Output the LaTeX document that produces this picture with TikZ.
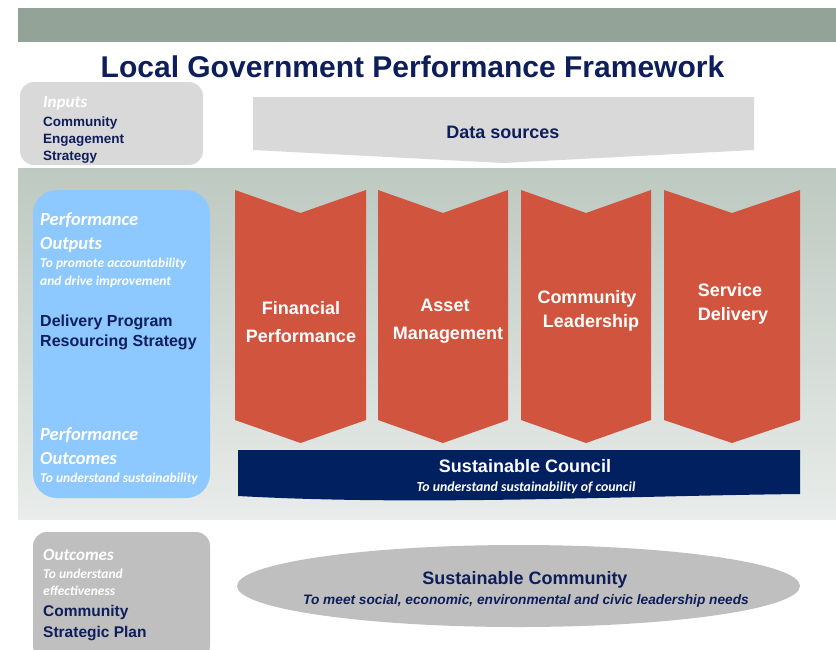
\documentclass[tikz,border=0pt]{standalone}
\usepackage{fontspec}
\setmainfont{Liberation Sans}
\newfontfamily\calfont{Carlito}
\usetikzlibrary{shapes.geometric}
\definecolor{navytxt}{HTML}{0E1E5B}
\definecolor{navybar}{HTML}{002060}
\definecolor{topbar}{HTML}{93A397}
\definecolor{bandtop}{HTML}{BDC9C1}
\definecolor{bandbot}{HTML}{E9ECEA}
\definecolor{chevred}{HTML}{D1543E}
\definecolor{lightblue}{HTML}{8DC8FE}
\definecolor{lgray}{HTML}{D9D9D9}
\definecolor{mgray}{HTML}{BFBFBF}
\tikzset{
  navybold/.style={text=navytxt, font=\bfseries\fontsize{#1}{#1}\selectfont, inner sep=0pt, anchor=base west},
  whiteital/.style={text=white, font=\calfont\bfseries\itshape\fontsize{#1}{#1}\selectfont, inner sep=0pt, anchor=base west},
  chevtext/.style={text=white, font=\bfseries\fontsize{18}{18}\selectfont, inner sep=0pt, anchor=base},
  chevron/.style={fill=chevred, draw=none},
}
\begin{document}
\begin{tikzpicture}[x=1pt,y=-1pt]
\useasboundingbox (0,0) rectangle (836,649);
\fill[white] (0,0) rectangle (836,649);
% top bar
\fill[topbar] (18,8) rectangle (836,42);
% title
\node[text=navytxt, font=\bfseries\fontsize{30}{30}\selectfont, inner sep=0pt, anchor=base] (title) at (412.5,77) {Local Government Performance Framework};
% middle band
\shade[top color=bandtop, bottom color=bandbot] (18,168) rectangle (836,519);
% inputs box
\fill[lgray, rounded corners=14pt] (20,82) rectangle (203,165);
\node[whiteital=17] (inp) at (43,107) {Inputs};
\node[navybold=13.5] (inp1) at (43,126) {Community};
\node[navybold=13.5] (inp2) at (43,143) {Engagement};
\node[navybold=13.5] (inp3) at (43,160) {Strategy};
% data sources
\fill[lgray] (253,97) -- (754,97) -- (754,150) -- (503,163) -- (253,150) -- cycle;
\node[navybold=18, anchor=base] (ds) at (503,138) {Data sources};
% blue box
\fill[lightblue, rounded corners=24pt] (33,190) rectangle (210,498);
\node[whiteital=18.5] (po1) at (40,225) {Performance};
\node[whiteital=18.5] (po2) at (40,249) {Outputs};
\node[whiteital=13.5] (po3) at (40,267) {To promote accountability};
\node[whiteital=13.5] (po4) at (40,285) {and drive improvement};
\node[navybold=16] (dp1) at (40,326) {Delivery Program};
\node[navybold=16] (dp2) at (40,346) {Resourcing Strategy};
\node[whiteital=18.5] (pc1) at (40,440) {Performance};
\node[whiteital=18.5] (pc2) at (40,464) {Outcomes};
\node[whiteital=13.5] (pc3) at (40,482) {To understand sustainability};
% chevrons
\foreach \l/\r in {235/366, 378/508, 521/651, 664/800}{
  \pgfmathsetmacro\m{(\l+\r)/2}
  \fill[chevron] (\l,190) -- (\m,213) -- (\r,190) -- (\r,420) -- (\m,443) -- (\l,420) -- cycle;
}
\node[chevtext] (c1a) at (301,314) {Financial};
\node[chevtext] (c1b) at (301,342) {Performance};
\node[chevtext] (c2a) at (445,311) {Asset};
\node[chevtext] (c2b) at (448,339) {Management};
\node[chevtext] (c3a) at (587,303) {Community};
\node[chevtext] (c3b) at (591,327) {Leadership};
\node[chevtext] (c4a) at (730,296) {Service};
\node[chevtext] (c4b) at (733,320) {Delivery};
% navy bar
\fill[navybar] (238,450) -- (800,450) -- (800,494) .. controls (620,496) and (420,506) .. (238,496) -- cycle;
\node[chevtext] (sc) at (525,472) {Sustainable Council};
\node[whiteital=13.8, anchor=base] (scs) at (526,491) {To understand sustainability of council};
% outcomes box
\fill[mgray, rounded corners=14pt] (33,532) rectangle (210,660);
\node[whiteital=17] (oc1) at (43,560) {Outcomes};
\node[whiteital=13.5] (oc2) at (43,578) {To understand};
\node[whiteital=13.5] (oc3) at (43,595) {effectiveness};
\node[navybold=15.5] (oc4) at (43,616) {Community};
\node[navybold=15.5] (oc5) at (43,637) {Strategic Plan};
% ellipse
\node[ellipse, fill=mgray, minimum width=563pt, minimum height=82pt, inner sep=0pt] (ell) at (518.5,586) {};
\node[navybold=18, anchor=base] (scm) at (525,584) {Sustainable Community};
\node[text=navytxt, font=\bfseries\itshape\fontsize{13.7}{13.7}\selectfont, inner sep=0pt, anchor=base] (scms) at (526,604) {To meet social, economic, environmental and civic leadership needs};
\end{tikzpicture}
\end{document}
